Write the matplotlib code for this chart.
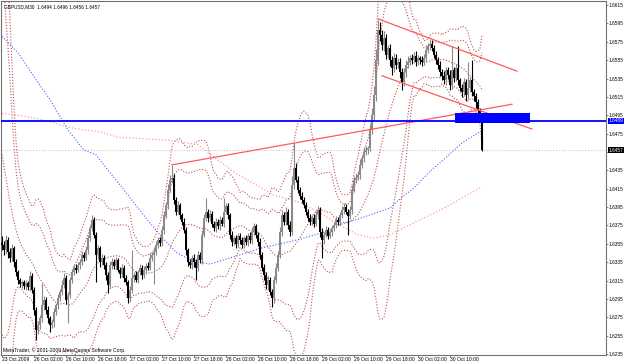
import numpy as np
import pandas as pd
import matplotlib
matplotlib.use("Agg")
import matplotlib.pyplot as plt
from matplotlib.transforms import blended_transform_factory

# prices are stored in pips above 1.6000
BASE = 1.6

# bars before the first visible one, only used to warm up the bands
warmup_close = [600, 608, 612, 605, 598, 580, 540, 500, 460, 430,
                410, 398, 388, 380, 374, 368, 364, 360, 358, 356]

close = [
    354, 348, 359, 346, 340, 350, 335, 324, 316, 311,
    313, 309, 312, 308, 320, 305, 283, 261, 267, 274,
    288, 294, 283, 274, 267, 270, 281, 288, 296, 303,
    310, 318, 294, 299, 316, 324, 329, 327, 332, 335,
    343, 340, 348, 361, 372, 381, 365, 343, 350, 335,
    340, 332, 321, 310, 332, 335, 331, 337, 327, 322,
    329, 318, 313, 296, 305, 318, 321, 316, 324, 329,
    321, 327, 331, 329, 340, 343, 346, 354, 359, 356,
    370, 386, 397, 414, 425, 427, 403, 390, 397, 386,
    379, 370, 348, 335, 332, 340, 335, 329, 343, 337,
    365, 383, 390, 383, 388, 377, 372, 379, 374, 381,
    377, 390, 396, 386, 365, 357, 361, 355, 364, 359,
    354, 361, 357, 364, 359, 368, 374, 365, 357, 343,
    329, 321, 310, 316, 303, 296, 316, 329, 343, 368,
    386, 379, 390, 376, 368, 419, 438, 425, 414, 407,
    403, 397, 390, 383, 379, 383, 377, 386, 392, 368,
    359, 365, 370, 364, 368, 372, 376, 381, 379, 386,
    392, 395, 390, 385, 392, 414, 425, 427, 430, 441,
    448, 455, 457, 459, 479, 495, 517, 555, 588, 582,
    571, 579, 561, 568, 555, 546, 557, 550, 553, 542,
    531, 542, 550, 553, 557, 555, 560, 553, 557, 555,
    553, 557, 566, 570, 573, 568, 561, 555, 550, 542,
    538, 533, 544, 539, 528, 544, 536, 546, 533, 525,
    520, 531, 517, 525, 533, 520, 516, 509, 501, 494,
    457,
]

# wick length above max(open, close) and below min(open, close)
upper_wick = [
    8, 4, 6, 3, 4, 5, 3, 4, 3, 2,
    3, 3, 4, 3, 5, 3, 3, 3, 4, 4,
    24, 4, 3, 4, 3, 3, 4, 3, 4, 3,
    6, 5, 3, 4, 3, 4, 3, 4, 3, 4,
    4, 3, 5, 4, 4, 5, 3, 3, 4, 3,
    4, 3, 3, 3, 4, 5, 3, 4, 3, 3,
    4, 3, 3, 3, 4, 30, 3, 4, 3, 4,
    3, 4, 3, 4, 5, 3, 6, 4, 3, 4,
    4, 5, 4, 6, 5, 14, 4, 3, 5, 3,
    3, 4, 3, 3, 4, 3, 4, 3, 4, 3,
    5, 4, 15, 3, 4, 3, 3, 4, 3, 4,
    3, 15, 4, 3, 3, 4, 3, 4, 3, 3,
    4, 3, 4, 3, 4, 5, 4, 3, 3, 4,
    3, 4, 3, 4, 3, 3, 4, 5, 4, 5,
    6, 4, 5, 3, 4, 10, 27, 5, 4, 3,
    4, 3, 4, 3, 4, 3, 4, 5, 4, 3,
    4, 3, 4, 3, 3, 4, 3, 4, 3, 4,
    4, 5, 3, 3, 4, 5, 4, 5, 4, 6,
    4, 5, 4, 3, 6, 8, 10, 12, 11, 8,
    6, 8, 5, 4, 5, 4, 6, 5, 4, 4,
    5, 4, 5, 6, 4, 5, 4, 5, 4, 3,
    4, 5, 6, 4, 5, 4, 3, 4, 3, 4,
    3, 5, 4, 4, 5, 26, 4, 5, 24, 3,
    4, 5, 3, 28, 4, 22, 4, 3, 4, 2,
    2,
]
lower_wick = [
    6, 5, 4, 6, 5, 4, 5, 4, 5, 3,
    4, 3, 4, 3, 4, 4, 5, 11, 4, 5,
    4, 5, 4, 5, 8, 4, 5, 3, 4, 3,
    4, 3, 5, 25, 3, 4, 3, 4, 3, 4,
    3, 4, 3, 4, 3, 3, 4, 30, 4, 5,
    3, 4, 5, 8, 3, 4, 3, 4, 3, 4,
    3, 4, 3, 5, 4, 3, 4, 3, 4, 3,
    4, 3, 4, 3, 3, 4, 32, 3, 4, 3,
    3, 4, 3, 4, 3, 4, 5, 4, 3, 4,
    4, 3, 5, 4, 3, 4, 5, 13, 4, 3,
    4, 3, 3, 4, 3, 4, 3, 4, 3, 4,
    3, 4, 3, 4, 5, 4, 3, 4, 3, 4,
    3, 4, 3, 4, 3, 4, 3, 4, 4, 5,
    4, 5, 4, 5, 4, 10, 5, 4, 4, 3,
    4, 3, 4, 5, 4, 3, 4, 3, 4, 3,
    4, 3, 4, 3, 4, 3, 4, 3, 4, 5,
    19, 4, 3, 4, 3, 4, 3, 4, 3, 4,
    3, 4, 3, 20, 3, 4, 3, 4, 3, 4,
    3, 4, 3, 4, 3, 4, 5, 6, 5, 6,
    5, 6, 5, 4, 6, 7, 4, 5, 4, 6,
    9, 4, 5, 4, 3, 4, 3, 4, 3, 4,
    4, 3, 4, 3, 4, 3, 4, 4, 5, 4,
    5, 4, 5, 4, 5, 4, 5, 4, 5, 4,
    5, 4, 6, 4, 5, 4, 5, 6, 4, 6,
    1,
]

# slow moving averages (bar index, pips)
blue_ma_bar = [0, 8, 16, 24, 33, 41, 47, 53, 55, 63, 72, 80, 87, 92, 97, 104,
               119, 129, 141, 149, 161, 169, 178, 186, 194, 198, 206, 214, 222, 230, 239]
blue_ma = [581, 563, 537, 512, 479, 457, 452, 435, 430, 408, 383, 362, 346, 340, 336, 333,
           343, 350, 356, 360, 368, 376, 382, 388, 394, 402, 416, 434, 449, 465, 477]
pink_ma_bar = [0, 8, 16, 24, 33, 41, 49, 58, 66, 83, 98, 116, 136, 149, 161, 169,
               178, 186, 194, 206, 222, 239]
pink_ma = [497, 495, 492, 488, 482, 479, 477, 471, 470, 468, 463, 433, 408, 400, 386, 375,
           365, 361, 365, 378, 395, 416]

# trend lines: (bar, pips) -> (bar, pips)
trend_lines = [((85, 441), (255, 507)),
               ((188, 600), (257.5, 543)),
               ((190, 538), (265, 480))]
hline_level = 489
zone_bars = (226.5, 264)
zone_levels = (487, 497)

time_labels = ["23 Oct 2009", "26 Oct 02:00", "26 Oct 10:00", "26 Oct 18:00",
               "27 Oct 02:00", "27 Oct 10:00", "27 Oct 18:00", "28 Oct 02:00",
               "28 Oct 10:00", "28 Oct 18:00", "29 Oct 02:00", "29 Oct 10:00",
               "29 Oct 18:00", "30 Oct 02:00", "30 Oct 10:00"]
price_ticks = np.arange(235, 616, 20)


def to_price(p):
    return BASE + np.asarray(p, dtype=float) / 10000


plt.rcParams["font.family"] = ["Liberation Sans Narrow", "Liberation Sans", "DejaVu Sans"]
FS_X = 3.6
FS_Y = 3.4

c = to_price(close)
o = to_price([warmup_close[-1]] + close[:-1])
hi = np.maximum(o, c) + np.asarray(upper_wick) / 10000
lo = np.minimum(o, c) - np.asarray(lower_wick) / 10000
n = len(c)
idx = np.arange(n)

# bollinger bands (20) with 2 and 3 deviations
full = pd.Series(to_price(warmup_close + close))
mid = full.rolling(20).mean().to_numpy()[-n:]
sd = full.rolling(20).std(ddof=0).to_numpy()[-n:]

fig = plt.figure(figsize=(6.25, 3.64), dpi=100)
ax = fig.add_axes([1 / 625, 9 / 364, 605 / 625, 354 / 364])
ax.set_xlim(-0.5, 302)
ax.set_ylim(1.62340, 1.66194)

dot = (0, (1, 1.6))
ax.axhline(c[-1], color="#c8c8c8", lw=0.8, ls=dot, zorder=1)
for band in (mid, mid + 2 * sd, mid - 2 * sd, mid + 3 * sd, mid - 3 * sd):
    ax.plot(idx, band, color="#c05050", lw=0.8, ls=dot, zorder=2)
ax.plot(blue_ma_bar, to_price(blue_ma), color="#5a5aff", lw=0.8, ls=dot, zorder=2)
ax.plot(pink_ma_bar, to_price(pink_ma), color="#ff9a9a", lw=0.9, ls=dot, zorder=2)

bull = c >= o
colors = np.where(bull, "#8a8a8a", "#000000")
ax.vlines(idx, lo, hi, colors=colors, lw=0.8, zorder=3)
body = np.maximum(np.abs(c - o), 0.00002)
ax.bar(idx, body, bottom=np.minimum(o, c), width=0.85, color=colors, lw=0, zorder=4)

for (x0, p0), (x1, p1) in trend_lines:
    ax.plot([x0, x1], to_price([p0, p1]), color="#ff5a5a", lw=0.9, zorder=5)

ax.fill_between(zone_bars, *to_price(zone_levels), color="#0000ff", lw=0, zorder=5)
ax.axhline(to_price(hline_level), color="#0000ff", lw=1.3, zorder=6)

# axes styling
for s in ax.spines.values():
    s.set_color("#707070")
    s.set_linewidth(0.8)
ax.yaxis.tick_right()
ax.set_yticks(to_price(price_ticks))
# the tick under the last price tag has no label
ax.set_yticklabels(["" if abs(p - close[-1]) < 5 else f"{BASE + p / 10000:.4f}"
                    for p in price_ticks])
ax.set_xticks(idx[::16][:len(time_labels)])
ax.set_xticklabels(time_labels)
ax.tick_params(axis="y", length=1.5, width=0.6, color="#707070", labelsize=FS_Y, pad=0.6)
ax.tick_params(axis="x", length=1.2, width=0.6, color="#707070", labelsize=FS_X, pad=0.3)
for lab in ax.get_xticklabels():
    lab.set_ha("left")

tr = blended_transform_factory(ax.transAxes, ax.transData)
ax.text(1.004, to_price(hline_level), f"{to_price(hline_level):.4f}", transform=tr,
        fontsize=FS_Y, color="white", va="center", ha="left",
        bbox=dict(facecolor="#0000ff", edgecolor="none", pad=0.5), zorder=10, clip_on=False)
ax.text(1.004, c[-1], f"{c[-1]:.4f}", transform=tr, fontsize=FS_Y, color="white",
        va="center", ha="left", bbox=dict(facecolor="black", edgecolor="none", pad=0.5),
        zorder=10, clip_on=False)

ax.text(0.005, 0.99, f"GBPUSD,M30  {o[-1]:.4f} {hi[-1]:.4f} {lo[-1]:.4f} {c[-1]:.4f}",
        transform=ax.transAxes, fontsize=3.4, va="top", ha="left")
ax.text(0.004, 0.006, "MetaTrader, \u00a9 2001-2009 MetaQuotes Software Corp.",
        transform=ax.transAxes, fontsize=3.6, va="bottom", ha="left")

fig.savefig("out.png", dpi=100, facecolor="white")
